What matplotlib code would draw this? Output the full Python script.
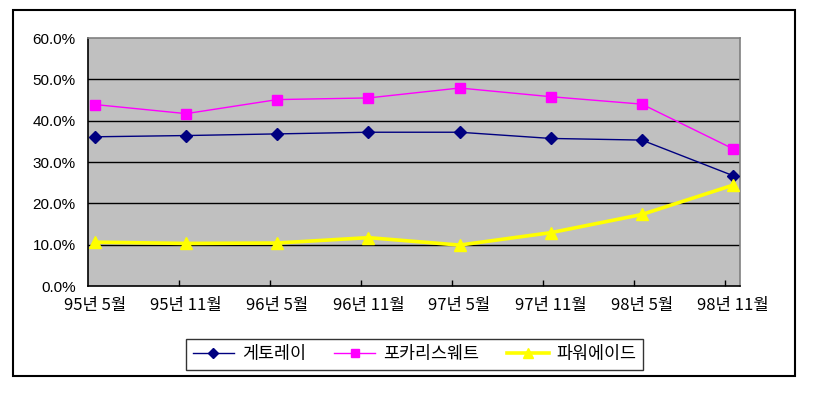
import matplotlib
matplotlib.use("Agg")
import matplotlib.pyplot as plt
from matplotlib.patches import Rectangle
from matplotlib.ticker import FixedLocator, FuncFormatter

plt.rcParams['font.family'] = ['Noto Sans CJK KR', 'DejaVu Sans']

categories = ["95년 5월", "95년 11월", "96년 5월", "96년 11월",
              "97년 5월", "97년 11월", "98년 5월", "98년 11월"]
gatorade = [36.1, 36.4, 36.8, 37.2, 37.2, 35.7, 35.3, 26.7]
pocari = [43.9, 41.7, 45.1, 45.5, 47.9, 45.8, 44.0, 33.2]
powerade = [10.6, 10.3, 10.4, 11.7, 9.9, 12.9, 17.3, 24.4]
yticks = [0, 10, 20, 30, 40, 50, 60]

W, H = 823, 404
fig = plt.figure(figsize=(W / 100, H / 100), dpi=100)

# outer border
fig.patches.append(Rectangle((13 / W, 1 - 376 / H), (795 - 13) / W, (376 - 10) / H,
                             transform=fig.transFigure, fill=False,
                             edgecolor='black', linewidth=1.5))

ax = fig.add_axes([88 / W, 1 - 286 / H, (740 - 88) / W, (286 - 38) / H])
ax.set_facecolor('#C0C0C0')

x = list(range(len(categories)))
ax.plot(x, gatorade, color='#000080', lw=1.0, marker='D', ms=6,
        mfc='#000080', mec='#000080', label='게토레이', zorder=4)
ax.plot(x, pocari, color='#FF00FF', lw=1.0, marker='s', ms=7,
        mfc='#FF00FF', mec='#FF00FF', label='포카리스웨트', zorder=4)
ax.plot(x, powerade, color='#FFFF00', lw=2.6, marker='^', ms=8,
        mfc='#FFFF00', mec='#FFFF00', label='파워에이드', zorder=4)

u = 7 / 638
ax.set_xlim(-7 * u, 7 + 7 * u)
ax.set_ylim(0, 60)

for v in yticks[1:-1]:
    ax.axhline(v, color='black', lw=1.0, zorder=1)

ax.set_yticks(yticks)
ax.yaxis.set_major_formatter(FuncFormatter(lambda v, p: f"{v:.1f}%"))
ax.tick_params(axis='y', length=0, pad=9, labelsize=11)
for lab in ax.get_yticklabels():
    lab.set_fontfamily(['Liberation Sans', 'DejaVu Sans'])

ax.set_xticks(x)
ax.set_xticklabels(categories, fontsize=12)
ax.tick_params(axis='x', which='major', length=0, pad=8)
ax.xaxis.set_minor_locator(FixedLocator([(179 - 95) * u + i * 91 * u for i in range(7)]))
ax.tick_params(axis='x', which='minor', direction='in', length=4, width=1, color='black')

for s in ['top', 'right']:
    ax.spines[s].set_color('#808080')
    ax.spines[s].set_linewidth(1.2)
for s in ['left', 'bottom']:
    ax.spines[s].set_color('black')
    ax.spines[s].set_linewidth(1.2)

leg = fig.legend(loc='center', bbox_to_anchor=(414.5 / W, 1 - 354.5 / H), ncol=3,
                 fontsize=12.5, frameon=True, fancybox=False, handlelength=2.4,
                 handletextpad=0.45, columnspacing=1.6, borderpad=0.35, borderaxespad=0,
                 markerscale=0.9)
leg.get_frame().set_edgecolor('black')
leg.get_frame().set_linewidth(1.0)

fig.savefig('out.png', dpi=100)
